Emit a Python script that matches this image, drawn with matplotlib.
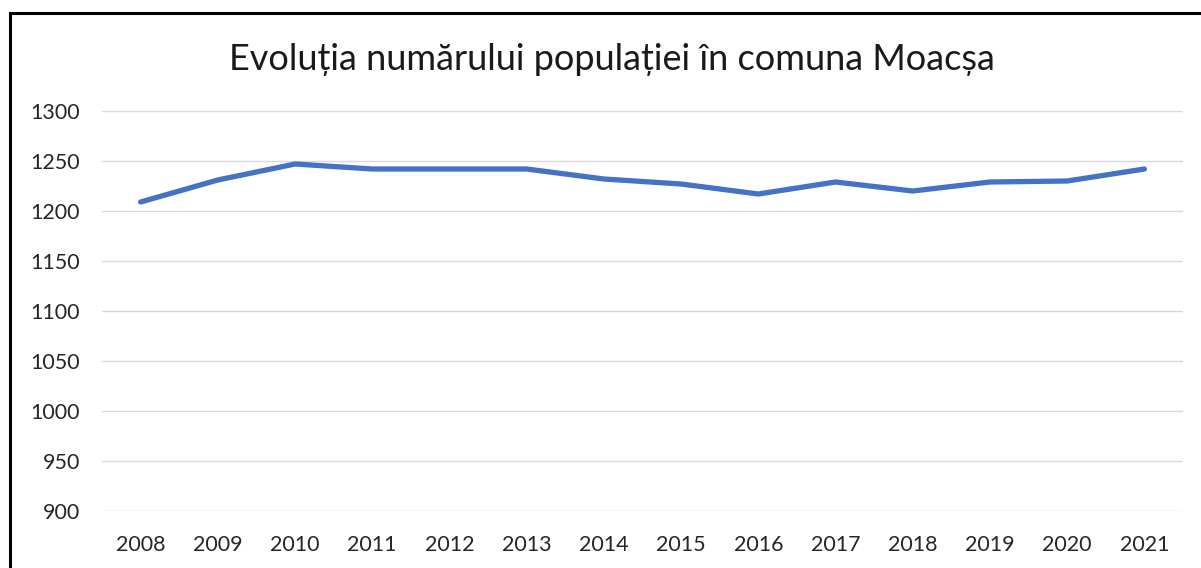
import matplotlib
matplotlib.use("Agg")
import matplotlib.pyplot as plt
from matplotlib.lines import Line2D

years = ["2008", "2009", "2010", "2011", "2012", "2013", "2014",
         "2015", "2016", "2017", "2018", "2019", "2020", "2021"]
population = [1209, 1231, 1247, 1242, 1242, 1242, 1232,
              1227, 1217, 1229, 1220, 1229, 1230, 1242]
yticks = [900, 950, 1000, 1050, 1100, 1150, 1200, 1250, 1300]
title = "Evoluția numărului populației în comuna Moacșa"

plt.rcParams['font.family'] = ['Lato', 'DejaVu Sans']

W, H = 1201, 568
fig = plt.figure(figsize=(W / 100, H / 100), dpi=100)
ax = fig.add_axes([102 / W, (H - 511) / H, (1183 - 102) / W, 400 / H])

x = list(range(len(years)))
ax.plot(x, population, color="#4472C4", linewidth=3.8, solid_capstyle="round",
        solid_joinstyle="round", zorder=3)

ax.set_xlim(-0.5, len(years) - 0.5)
ax.set_ylim(900, 1300)
ax.set_yticks(yticks)
ax.set_yticklabels([str(v) for v in yticks])
ax.set_xticks(x)
ax.set_xticklabels(years)
ax.grid(axis="y", color="#D9D9D9", linewidth=1.0)
ax.set_axisbelow(True)
for s in ax.spines.values():
    s.set_visible(False)
ax.tick_params(axis="both", length=0, labelsize=15.5, colors="#262626")
ax.tick_params(axis="y", pad=16)
ax.tick_params(axis="x", pad=17)

fig.text(612 / W, 1 - 60 / H, title, ha="center", va="center",
         fontsize=26, color="#1a1a1a")

# frame (left and top borders)
fig.add_artist(Line2D([10 / W, 10 / W], [0, 1 - 13 / H], transform=fig.transFigure,
                      color="black", linewidth=2.2))
fig.add_artist(Line2D([9.5 / W, 1], [1 - 13 / H, 1 - 13 / H], transform=fig.transFigure,
                      color="black", linewidth=2.2))

fig.savefig("out.png", dpi=100)
